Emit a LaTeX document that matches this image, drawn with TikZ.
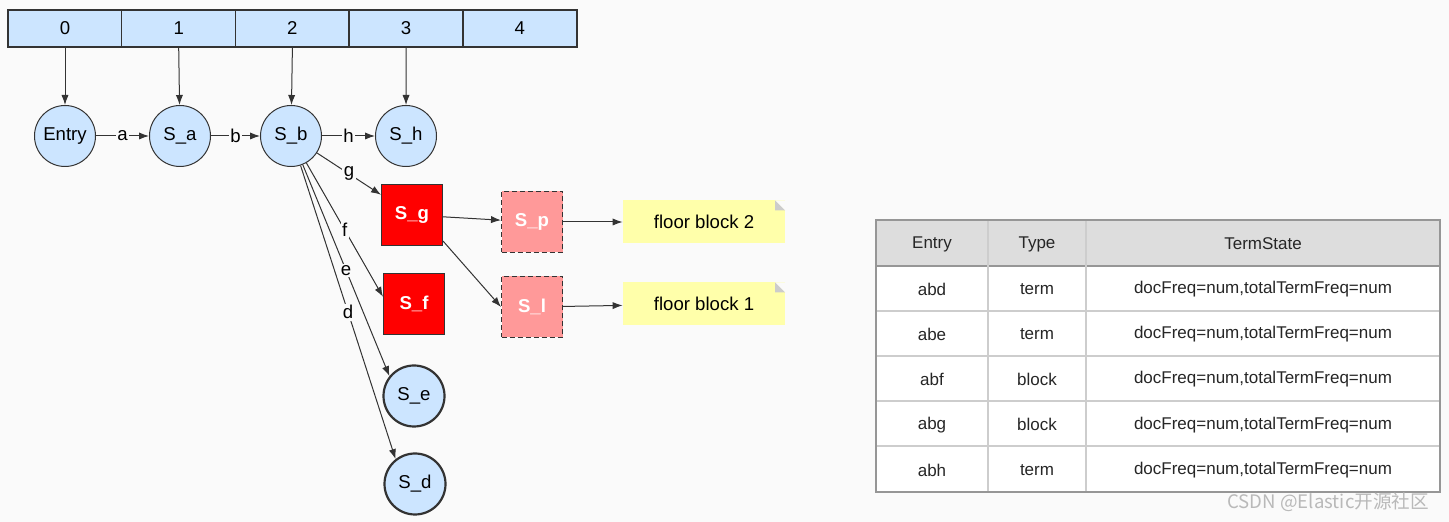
\documentclass[tikz,border=0pt]{standalone}
\usepackage{fontspec}
\setmainfont{Liberation Sans}
\newfontfamily\cjkfont{Noto Sans CJK SC}
\usetikzlibrary{arrows.meta,positioning}
\definecolor{bgcol}{RGB}{250,250,250}
\definecolor{cellblue}{RGB}{204,229,255}
\definecolor{linegray}{RGB}{51,51,51}
\definecolor{blockred}{RGB}{255,0,0}
\definecolor{floorpink}{RGB}{255,153,153}
\definecolor{noteyellow}{RGB}{255,255,170}
\definecolor{foldgray}{RGB}{204,204,204}
\definecolor{headgray}{RGB}{221,221,221}
\definecolor{gridgray}{RGB}{205,205,205}
\definecolor{framegray}{RGB}{150,150,150}
\definecolor{wmgray}{RGB}{185,185,185}
\newcommand\nodefont{\fontsize{9.3}{11}\selectfont}
\newcommand\tabfont{\fontsize{8.5}{10}\selectfont}
\newcommand\tstate{docFreq=num,totalTermFreq=num}
\tikzset{
  cell/.style   = {draw=linegray, line width=0.75pt, fill=cellblue, rectangle,
                   minimum width=57pt, minimum height=18.5pt, font=\nodefont},
  state/.style  = {draw=linegray, line width=0.5pt, fill=cellblue, circle,
                   minimum size=30.5pt, inner sep=0pt, font=\nodefont},
  final/.style  = {state, line width=1.1pt},
  block/.style  = {draw=linegray, line width=0.5pt, fill=blockred, rectangle,
                   minimum size=30.5pt, inner sep=0pt, text=white,
                   font=\nodefont\bfseries},
  floor/.style  = {block, fill=floorpink, dash pattern=on 2.5pt off 1.5pt},
  note/.style   = {rectangle, fill=noteyellow, minimum width=81pt,
                   minimum height=21.5pt, font=\nodefont,
                   path picture={
                     \fill[bgcol] (path picture bounding box.north east)
                       -- ++(-5pt,0) -- ++(5pt,-5pt) -- cycle;
                     \fill[foldgray] ([xshift=-5pt]path picture bounding box.north east)
                       -- ++(0,-5pt) -- ++(5pt,0) -- cycle;}},
  lbl/.style    = {fill=bgcol, inner sep=0.8pt, font=\nodefont},
  link/.style   = {draw=linegray, line width=0.5pt, ->},
  tab/.style    = {font=\tabfont, text=black!85}
}

\begin{document}
\begin{tikzpicture}[x=0.5pt, y=-0.5pt, >={Latex[length=5pt,width=3.6pt]}]

\fill[bgcol] (0,0) rectangle (1449,522);
\useasboundingbox (0,0) rectangle (1449,522);

% array of entries
\foreach \k [count=\ki] in {0,...,4}{
    \pgfmathsetmacro\result{65 + \k * 113.7}
    \node[cell] at (\result,28.5) (c\k) {\k};
    }

\node[state] at (65,136)  (Entry) {Entry};
\node[state] at (180,136) (Sa) {S\_a};
\node[state] at (291,136) (Sb) {S\_b};
\node[state] at (406,136) (Sh) {S\_h};
\node[final] at (414,396) (Se) {S\_e};
\node[final] at (415,484) (Sd) {S\_d};

\node[block] at (412,215) (Sg) {S\_g};
\node[block] at (414,304) (Sf) {S\_f};
\node[floor] at (532,222) (Sp) {S\_p};
\node[floor] at (532,307) (Sl) {S\_l};

\node[note] at (704,222) (fb2) {floor block 2};
\node[note] at (704,304) (fb1) {floor block 1};

\draw[link] (c0.south) -- (Entry);
\draw[link] (c1.south) -- (Sa);
\draw[link] (c2.south) -- (Sb);
\draw[link] (c3.south) -- (Sh);

\draw[link] (Entry) -- node[lbl] {a} (Sa);
\draw[link] (Sa) -- node[lbl] {b} (Sb);
\draw[link] (Sb) -- node[lbl] {h} (Sh);

\foreach \x/\y in {g/Sg, f/Sf.167, e/Se.141, d/Sd.128}{
    \draw[link] (Sb) -- node[lbl] {\x} (\y);
    }

\draw[link] (Sg) -- (Sp);
\draw[link] (Sg.-40) -- (Sl.west);
\draw[link] (Sp) -- (fb2);
\draw[link] (Sl) -- (fb1);

% table of entries
\fill[headgray] (876,220) rectangle (1440,266);
\fill[white] (876,266) rectangle (1440,492);
\foreach \y in {311,356,401,446}{
    \draw[gridgray, line width=0.6pt] (876,\y) -- (1440,\y);
    }
\draw[framegray, line width=0.6pt] (876,266) -- (1440,266);
\foreach \x in {988,1086}{
    \draw[gridgray, line width=0.6pt] (\x,220) -- (\x,492);
    }
\draw[framegray, line width=0.8pt] (876,220) rectangle (1440,492);

\foreach \e/\t/\s [count=\i] in {Entry/Type/TermState, abd/term/\tstate,
    abe/term/\tstate, abf/block/\tstate, abg/block/\tstate, abh/term/\tstate}{
    \pgfmathsetmacro\result{244 + (\i - 1) * 45.2}
    \node[tab] at (932,\result)  (e\i) {\e};
    \node[tab] at (1037,\result) (t\i) {\t};
    \node[tab] at (1263,\result) (s\i) {\s};
    }

\node[anchor=east, text=wmgray, font=\cjkfont\fontsize{9.3}{11}\selectfont]
    at (1436,502) (mark) {CSDN @Elastic开源社区};

\end{tikzpicture}
\end{document}
